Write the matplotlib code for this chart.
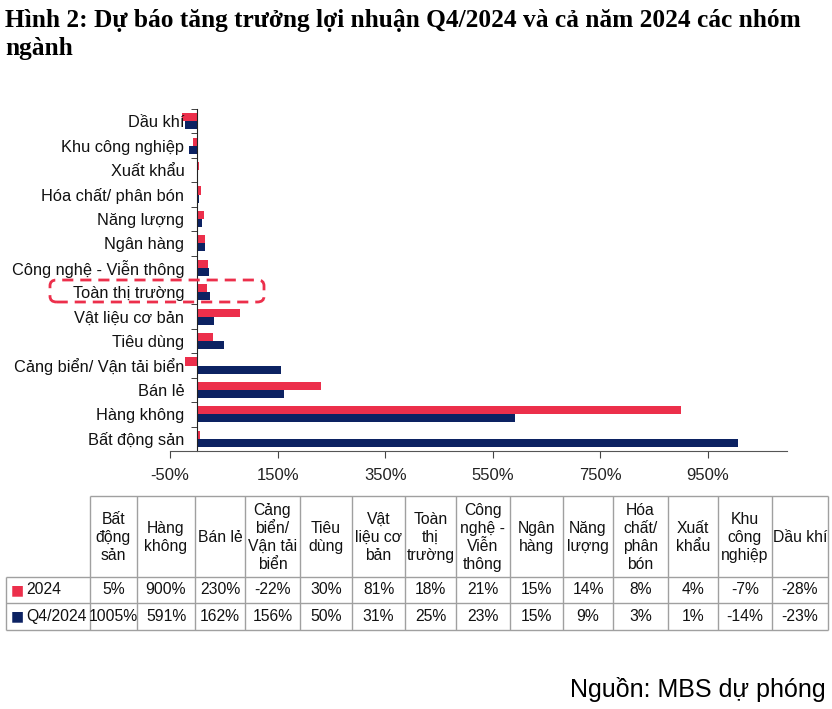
import numpy as np
import matplotlib.pyplot as plt
from matplotlib.patches import FancyBboxPatch

plt.rcParams['font.family'] = ['Liberation Sans', 'DejaVu Sans']
NARROW = ['Liberation Sans Narrow', 'Liberation Sans', 'DejaVu Sans']

# data (table order, left to right = chart bottom to top)
sectors = ['Bất động sản', 'Hàng không', 'Bán lẻ', 'Cảng biển/ Vận tải biển',
           'Tiêu dùng', 'Vật liệu cơ bản', 'Toàn thị trường',
           'Công nghệ - Viễn thông', 'Ngân hàng', 'Năng lượng',
           'Hóa chất/ phân bón', 'Xuất khẩu', 'Khu công nghiệp', 'Dầu khí']
headers = ['Bất\nđộng\nsản', 'Hàng\nkhông', 'Bán lẻ', 'Cảng\nbiển/\nVận tải\nbiển',
           'Tiêu\ndùng', 'Vật\nliệu cơ\nbản', 'Toàn\nthị\ntrường',
           'Công\nnghệ -\nViễn\nthông', 'Ngân\nhàng', 'Năng\nlượng',
           'Hóa\nchất/\nphân\nbón', 'Xuất\nkhẩu', 'Khu\ncông\nnghiệp', 'Dầu khí']
y2024 = [5, 900, 230, -22, 30, 81, 18, 21, 15, 14, 8, 4, -7, -28]
q4_2024 = [1005, 591, 162, 156, 50, 31, 25, 23, 15, 9, 3, 1, -14, -23]
xticks = [-50, 150, 350, 550, 750, 950]

RED = '#EC2F4B'
NAVY = '#0C2262'

fig = plt.figure(figsize=(8.32, 7.09), dpi=100)

fig.text(0.006, 0.988, 'Hình 2: Dự báo tăng trưởng lợi nhuận Q4/2024 và cả năm 2024 các nhóm\nngành',
         family='Liberation Serif', weight='bold', fontsize=18.3, va='top', ha='left',
         linespacing=1.3)

# bar chart
ax = fig.add_axes([170 / 832, 1 - 451 / 709, 617 / 832, 342 / 709])
y = np.arange(len(sectors))
h = 0.33
ax.barh(y + h / 2, y2024, height=h, color=RED)
ax.barh(y - h / 2, q4_2024, height=h, color=NAVY)
ax.set_xlim(-50, 1097)
ax.set_ylim(-0.5, len(sectors) - 0.5)

for s in ['top', 'right']:
    ax.spines[s].set_visible(False)
ax.spines['left'].set_position(('data', 0))
ax.spines['left'].set_color('#222222')
ax.spines['bottom'].set_color('#555555')

ax.set_xticks(xticks)
ax.set_xticklabels([f'{v}%' for v in xticks], fontsize=12, color='#222222',
                   family=NARROW)
ax.tick_params(axis='x', direction='out', length=5, color='#444444', pad=7)

ax.set_yticks(y)
ax.set_yticklabels(sectors, fontsize=11.8, color='#111111')
ax.set_yticks(np.arange(len(sectors) + 1) - 0.5, minor=True)
ax.tick_params(axis='y', which='major', length=0, pad=9)
ax.tick_params(axis='y', which='minor', length=4, direction='out', color='#222222')

# highlight box around "Toàn thị trường"
box = FancyBboxPatch((50 / 832, 1 - 302 / 709), 214 / 832, 22 / 709,
                     boxstyle='round,pad=0,rounding_size=0.008',
                     transform=fig.transFigure, fill=False, edgecolor=RED,
                     linestyle=(0, (4, 2.5)), linewidth=2)
fig.patches.append(box)

# table
tax = fig.add_axes([0, 0, 1, 1])
tax.set_xlim(0, 832)
tax.set_ylim(709, 0)
tax.axis('off')

col_edges = [90, 137, 195, 245, 300, 352, 405, 456, 510, 563, 613, 668, 718, 772, 828]
top, r1, r2, bot = 496, 577, 603, 630
grid = '#A0A0A0'
tax.hlines(top, col_edges[0], col_edges[-1], color=grid, lw=1)
tax.hlines([r1, r2, bot], 6, col_edges[-1], color=grid, lw=1)
tax.vlines(col_edges, top, bot, color=grid, lw=1)
tax.vlines(6, r1, bot, color=grid, lw=1)

tfs = 11.3
for i in range(len(headers)):
    cx = (col_edges[i] + col_edges[i + 1]) / 2
    tax.text(cx, (top + r1) / 2 + 1, headers[i], ha='center', va='center',
             fontsize=tfs, linespacing=1.25, color='#111111', family=NARROW)
    tax.text(cx, (r1 + r2) / 2, f'{y2024[i]}%', ha='center', va='center',
             fontsize=tfs, color='#111111', family=NARROW)
    tax.text(cx, (r2 + bot) / 2, f'{q4_2024[i]}%', ha='center', va='center',
             fontsize=tfs, color='#111111', family=NARROW)

for yy, lab, c in [((r1 + r2) / 2, '2024', RED), ((r2 + bot) / 2, 'Q4/2024', NAVY)]:
    tax.text(11, yy, '■', ha='left', va='center', fontsize=10, color=c,
             family='DejaVu Sans')
    tax.text(26, yy, lab, ha='left', va='center', fontsize=tfs, color='#111111',
             family=NARROW)

fig.text(826 / 832, 1 - 690 / 709, 'Nguồn: MBS dự phóng', ha='right', va='center',
         fontsize=18, color='#000000')

fig.savefig('out.png', dpi=100)
